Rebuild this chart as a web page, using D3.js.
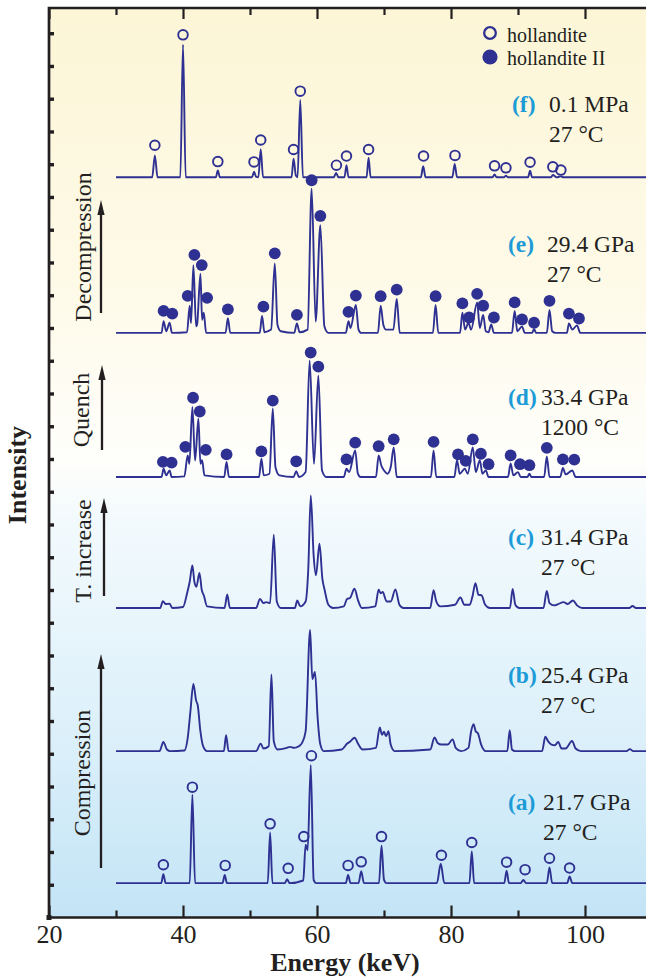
<!DOCTYPE html>
<html>
<head>
<meta charset="utf-8">
<script src="https://cdn.jsdelivr.net/npm/d3@7"></script>
<style>
  body { margin: 0; background: #fff; }
  text { font-family: "Liberation Serif", "Times New Roman", serif; fill: #231f20; }
</style>
</head>
<body>
<div id="chart"></div>
<script>
// Axis values
const energyDomain = [20, 110];
const xMajorTicks = [20, 40, 60, 80, 100];
const xMinorTicks = [30, 50, 70, 90, 110];
const intensityTicks = d3.range(1, 28);

// Panels, bottom (a) to top (f)
const panels = ["a", "b", "c", "d", "e", "f"];
const pressures = ["21.7 GPa", "25.4 GPa", "31.4 GPa", "33.4 GPa", "29.4 GPa", "0.1 MPa"];
const temperatures = ["27 °C", "27 °C", "27 °C", "1200 °C", "27 °C", "27 °C"];
const offsets = [1.05, 5.08, 9.45, 13.45, 17.85, 22.6];

// Spectra as [energy keV, intensity above baseline]
const spectrumA = [[30,0],[36.75,0],[37.07,0.27],[37.4,0],[41.0,0],[41.4,2.7],[41.8,0],[45.9,0],[46.23,0.25],[46.55,0],
  [52.65,0],[53.0,1.55],[53.35,0],[55.2,0],[55.54,0.12],[55.9,0],[57.95,0.08],[58.3,1.17],[58.6,1.0],[59.07,3.61],[59.5,0.1],[59.9,0],
  [64.3,0],[64.64,0.25],[65.0,0],[66.2,0],[66.6,0.36],[67.0,0],[69.25,0],[69.63,1.14],[70.0,0.1],[70.4,0],[77.9,0],[78.47,0.59],[79.0,0],
  [82.75,0],[83.1,0.97],[83.45,0],[87.95,0],[88.3,0.38],[88.65,0],[90.4,0],[90.8,0.1],[91.2,0],[94.3,0],[94.7,0.48],[95.1,0],
  [97.35,0],[97.7,0.2],[98.1,0],[110,0]];

const spectrumB = [[30,0],[36.5,0],[37.07,0.28],[37.6,0.05],[38.1,0],[40.2,0.02],[40.7,0.4],[41.1,1.2],[41.55,2.05],[41.95,1.55],
  [42.2,1.4],[42.6,0.6],[43.0,0.15],[43.6,0],[46.1,0],[46.43,0.49],[46.8,0],[50.9,0],[51.6,0.23],[52.0,0.08],[52.8,0.15],[53.2,2.34],
  [53.55,0.3],[54.1,0.05],[55.5,0.1],[55.96,0.13],[56.6,0.1],[57.3,0.15],[57.77,0.25],[58.3,0.6],[58.97,3.7],[59.3,2.2],[59.7,2.42],
  [60.1,1.0],[60.5,0.2],[61.0,0],[63.7,0.05],[64.5,0.23],[65.0,0.3],[65.6,0.41],[66.2,0.2],[66.8,0.05],[68.8,0.1],[69.37,0.72],
  [69.7,0.5],[70.0,0.59],[70.3,0.45],[70.67,0.61],[71.0,0.2],[71.6,0],[76.9,0.05],[77.54,0.42],[78.0,0.25],[78.6,0.2],[79.5,0.2],
  [80.24,0.36],[80.7,0.1],[81.5,0],[82.6,0.1],[83.0,0.6],[83.36,0.82],[83.7,0.6],[84.03,0.54],[84.5,0.2],[85.2,0],[88.4,0],
  [88.77,0.64],[89.1,0.05],[89.6,0],[93.6,0],[94.07,0.44],[94.5,0.3],[95.0,0.2],[95.5,0.18],[96.0,0.28],[96.5,0.08],[97.1,0.08],
  [98.07,0.31],[98.6,0.08],[99.4,0],[106.2,0],[106.7,0.06],[107.2,0],[110,0]];

const spectrumC = [[30,0],[36.6,0],[37.0,0.21],[37.4,0.12],[38.0,0.13],[38.4,0],[40.0,0.03],[40.6,0.44],[41.0,0.8],[41.4,1.3],
  [41.7,0.8],[42.0,0.65],[42.45,1.07],[42.8,0.55],[43.1,0.39],[43.6,0.05],[46.2,0],[46.6,0.41],[47.0,0],[50.9,0],[51.5,0.28],
  [52.0,0.15],[52.4,0.18],[53.0,0.15],[53.55,2.24],[54.0,0.2],[54.6,0],[56.7,0],[57.05,0.23],[57.5,0.05],[58.3,0.2],[58.7,1.2],
  [59.07,3.44],[59.5,1.6],[59.85,1.0],[60.37,1.96],[60.8,0.9],[61.15,0.54],[61.7,0.1],[62.4,0],[64.0,0.05],[64.5,0.28],[64.9,0.3],
  [65.6,0.59],[66.1,0.25],[66.7,0],[68.7,0.05],[69.2,0.56],[69.5,0.45],[69.8,0.49],[70.4,0.2],[71.0,0.2],[71.7,0.57],[72.3,0.1],
  [72.9,0],[76.9,0],[77.4,0.54],[77.8,0.2],[78.4,0.05],[80.6,0.1],[81.4,0.32],[82.0,0.1],[82.8,0.1],[83.2,0.35],[83.65,0.76],
  [84.1,0.4],[84.55,0.39],[85.1,0.1],[85.8,0],[88.8,0],[89.2,0.58],[89.6,0.1],[90.2,0],[93.8,0],[94.3,0.52],[94.7,0.15],[95.4,0.08],
  [96.0,0.12],[96.8,0.18],[97.4,0.12],[98.2,0.23],[98.8,0.08],[99.6,0],[106.6,0],[107.1,0.06],[107.6,0],[110,0]];

const spectrumD = [[30,0],[36.8,0],[37.1,0.25],[37.5,0.05],[38.0,0.2],[38.3,0],[40.2,0.02],[40.7,0.66],[40.95,0.4],[41.4,2.14],
  [41.8,0.5],[42.3,1.78],[42.6,0.4],[42.85,0.51],[43.2,0.05],[46.15,0],[46.5,0.46],[46.85,0],[51.35,0],[51.7,0.56],[52.05,0.05],
  [52.9,0.1],[53.4,2.09],[53.8,0.3],[54.4,0.05],[56.5,0],[56.9,0.18],[57.3,0],[58.3,0.15],[58.9,3.56],[59.55,0.4],[60.2,3.1],
  [60.75,0.2],[61.4,0],[64.0,0],[64.4,0.25],[64.8,0.15],[65.7,0.81],[66.1,0.1],[66.5,0],[68.8,0],[69.2,0.66],[69.6,0.35],[70.0,0.2],
  [70.5,0.1],[71.0,0.3],[71.45,0.9],[71.9,0],[77.0,0],[77.4,0.81],[77.8,0],[80.5,0],[80.9,0.51],[81.3,0.1],[82.06,0.25],[82.5,0.1],
  [83.25,0.9],[83.7,0.15],[84.3,0.51],[84.7,0.1],[85.2,0.2],[85.6,0],[88.5,0],[88.9,0.41],[89.3,0.05],[90.0,0.15],[90.4,0],
  [91.4,0],[91.7,0.1],[92.0,0],[93.9,0],[94.3,0.63],[94.7,0],[96.3,0],[96.7,0.28],[97.1,0.08],[98.1,0.2],[98.6,0],[110,0]];

const spectrumE = [[30,0],[36.8,0],[37.1,0.36],[37.5,0.05],[38.0,0.31],[38.35,0],[40.6,0.02],[41.0,0.83],[41.2,0.3],[41.55,2.07],
  [41.95,0.2],[42.1,0.25],[42.6,1.81],[42.85,0.4],[43.1,0.62],[43.45,0],[46.35,0],[46.7,0.45],[47.05,0],[51.45,0],[51.8,0.52],
  [52.15,0.02],[53.15,0.1],[53.7,2.12],[54.1,0.25],[54.6,0.05],[56.6,0],[57.0,0.29],[57.4,0.02],[58.6,0.1],[59.2,4.4],[59.8,0.35],
  [60.5,3.29],[61.1,0.2],[61.7,0],[64.3,0],[64.7,0.36],[65.0,0.15],[65.8,0.85],[66.2,0.1],[66.6,0],[69.1,0],[69.5,0.83],[69.9,0.25],
  [70.3,0.1],[71.4,0.1],[71.9,1.04],[72.35,0],[77.3,0],[77.7,0.85],[78.1,0],[81.35,0],[81.7,0.62],[82.1,0.1],[82.6,0.31],[83.0,0.1],
  [83.9,0.93],[84.3,0.15],[84.8,0.55],[85.2,0.05],[85.6,0.02],[86.0,0.26],[86.4,0],[89.1,0],[89.5,0.67],[89.9,0.05],[90.6,0.2],
  [91.0,0],[92.1,0],[92.4,0.12],[92.7,0],[94.3,0],[94.7,0.7],[95.1,0.05],[95.6,0],[97.3,0],[97.6,0.29],[98.1,0.1],[98.8,0.23],
  [99.3,0],[110,0]];

const spectrumF = [[30,0],[35.4,0],[35.8,0.67],[36.2,0],[39.6,0],[40.0,4.05],[40.4,0],[44.9,0],[45.2,0.21],[45.5,0],[50.3,0],
  [50.6,0.17],[50.9,0.02],[51.25,0],[51.6,0.86],[51.95,0],[56.2,0],[56.5,0.57],[56.85,0.05],[57.1,0],[57.5,2.36],[57.9,0],[62.5,0],
  [62.85,0.13],[63.2,0],[64.1,0],[64.4,0.37],[64.7,0],[67.4,0],[67.7,0.6],[68.0,0],[75.5,0],[75.85,0.34],[76.2,0],[80.2,0],
  [80.55,0.41],[80.9,0],[86.2,0],[86.5,0.09],[86.8,0],[87.9,0],[88.2,0.05],[88.5,0],[91.5,0],[91.8,0.2],[92.1,0],[94.9,0],
  [95.2,0.07],[95.8,0],[96.4,0.03],[96.8,0],[110,0]];

// Peak markers [energy, height above baseline]
const markersA = [[37.07,0.56],[41.4,2.93],[46.3,0.54],[53.0,1.81],[55.7,0.45],[58.03,1.42],[59.17,3.89],[64.64,0.54],[66.6,0.65],
  [69.63,1.42],[78.57,0.85],[83.1,1.24],[88.3,0.64],[91.06,0.41],[94.7,0.76],[97.7,0.46]];
const markersD = [[37.0,0.46],[38.3,0.44],[40.35,0.92],[41.5,2.42],[42.5,2.0],[43.4,0.83],[46.5,0.69],[51.7,0.78],[53.4,2.33],
  [56.9,0.48],[59.06,3.8],[60.2,3.37],[64.4,0.54],[65.7,1.05],[69.2,0.94],[71.45,1.15],[77.4,1.07],[81.05,0.69],[82.2,0.49],
  [83.25,1.15],[84.46,0.71],[85.6,0.39],[88.9,0.66],[90.3,0.39],[91.7,0.36],[94.3,0.89],[96.7,0.54],[98.4,0.53]];
const markersE = [[37.1,0.67],[38.4,0.59],[40.7,1.13],[41.7,2.38],[42.8,2.07],[43.6,1.07],[46.7,0.72],[52.0,0.8],[53.7,2.43],
  [57.0,0.55],[59.2,4.66],[60.5,3.57],[64.7,0.64],[65.8,1.14],[69.5,1.12],[71.9,1.32],[77.7,1.12],[81.7,0.9],[82.7,0.47],
  [83.9,1.19],[84.8,0.83],[86.4,0.47],[89.5,0.93],[90.6,0.41],[92.4,0.31],[94.7,0.98],[97.6,0.59],[99.1,0.44]];
const markersF = [[35.8,0.98],[40.0,4.35],[45.2,0.48],[50.6,0.47],[51.6,1.14],[56.5,0.85],[57.5,2.63],[62.9,0.37],[64.4,0.65],
  [67.7,0.85],[75.9,0.65],[80.6,0.67],[86.5,0.35],[88.2,0.29],[91.8,0.46],[95.2,0.32],[96.4,0.22]];

const spectra = [spectrumA, spectrumB, spectrumC, spectrumD, spectrumE, spectrumF];
const markerSets = [
  { panel: 0, phase: "hollandite", points: markersA },
  { panel: 3, phase: "hollandite II", points: markersD },
  { panel: 4, phase: "hollandite II", points: markersE },
  { panel: 5, phase: "hollandite", points: markersF }
];
const legendItems = ["hollandite", "hollandite II"];
const processes = ["Compression", "T. increase", "Quench", "Decompression"];

// Layout (pixels)
const width = 646, height = 979;
const plotLeft = 49, plotRight = 652, plotTop = 8, plotBottom = 917.5;
const blue = "#2e3192", cyan = "#1d9bd7";
const labelLetterX = [508, 508, 508, 508, 508, 512];
const labelValueX = [543, 541, 541, 541, 547, 549];
const labelY = [810, 683, 545, 405, 252, 112];
const processLayout = [
  { x: 101, y1: 868, y2: 654, tx: 90, ty: 773 },
  { x: 104, y1: 596, y2: 498, tx: 91, ty: 551 },
  { x: 102, y1: 450, y2: 365, tx: 89, ty: 410 },
  { x: 101, y1: 313, y2: 200, tx: 91, ty: 247 }
];

const svg = d3.select("#chart").append("svg")
    .attr("width", width)
    .attr("height", height);

const x = d3.scaleLinear().domain(energyDomain).range([plotLeft, plotRight]);
const y = d3.scaleLinear().domain([0, 27.77]).range([plotBottom, plotTop]);

// background gradient
const grad = svg.append("defs").append("linearGradient")
    .attr("id", "bg").attr("x1", 0).attr("y1", 0).attr("x2", 0).attr("y2", 1);
[[0, "#fcf5d6"], [0.3, "#fefae8"], [0.5, "#fefefb"], [0.56, "#f3fafd"], [0.8, "#dcf0fa"], [1, "#c3e4f6"]]
  .forEach(s => grad.append("stop").attr("offset", s[0]).attr("stop-color", s[1]));

svg.append("rect")
    .attr("x", plotLeft).attr("y", plotTop)
    .attr("width", plotRight - plotLeft).attr("height", plotBottom - plotTop)
    .attr("fill", "url(#bg)");

// spectra
const line = d3.line().curve(d3.curveMonotoneX);
svg.append("g").selectAll("path")
    .data(spectra)
    .join("path")
    .attr("d", (d, i) => line.x(p => x(p[0])).y(p => y(p[1] + offsets[i]))(d))
    .attr("fill", "none")
    .attr("stroke", blue)
    .attr("stroke-width", 1.9)
    .attr("stroke-linejoin", "round");

// peak markers
markerSets.forEach(set => {
  const open = set.phase === "hollandite";
  svg.append("g").selectAll("circle")
      .data(set.points)
      .join("circle")
      .attr("cx", d => x(d[0]))
      .attr("cy", d => y(d[1] + offsets[set.panel]))
      .attr("r", open ? 4.8 : 5.9)
      .attr("fill", open ? "none" : blue)
      .attr("stroke", open ? blue : "none")
      .attr("stroke-width", 1.9);
});

// axes
function styleAxis(g, w) {
  g.select(".domain").remove();
  g.selectAll(".tick line").attr("stroke", "#231f20").attr("stroke-width", w);
}
svg.append("g").attr("transform", `translate(0,${plotBottom})`)
    .call(d3.axisBottom(x).tickValues(xMajorTicks).tickSizeInner(-12).tickSizeOuter(0).tickPadding(7))
    .call(g => styleAxis(g, 2.2))
    .call(g => g.selectAll("text")
        .attr("font-family", "Liberation Serif, serif")
        .attr("font-size", 26)
        .attr("fill", "#231f20"));
svg.append("g").attr("transform", `translate(0,${plotBottom})`)
    .call(d3.axisBottom(x).tickValues(xMinorTicks).tickSizeInner(-7).tickSizeOuter(0).tickFormat(""))
    .call(g => styleAxis(g, 2.2));
svg.append("g").attr("transform", `translate(0,${plotTop})`)
    .call(d3.axisTop(x).tickValues(xMajorTicks).tickSizeInner(-11).tickSizeOuter(0).tickFormat(""))
    .call(g => styleAxis(g, 2.2));
svg.append("g").attr("transform", `translate(0,${plotTop})`)
    .call(d3.axisTop(x).tickValues(xMinorTicks).tickSizeInner(-7).tickSizeOuter(0).tickFormat(""))
    .call(g => styleAxis(g, 2.2));
svg.append("g").attr("transform", `translate(${plotLeft},0)`)
    .call(d3.axisLeft(y).tickValues(intensityTicks).tickSizeInner(-5).tickSizeOuter(0).tickFormat(""))
    .call(g => styleAxis(g, 3.4));

// frame
svg.append("path")
    .attr("d", `M${plotRight},${plotTop}H${plotLeft}V${plotBottom}H${plotRight}`)
    .attr("fill", "none")
    .attr("stroke", "#231f20")
    .attr("stroke-width", 2.7)
    .attr("stroke-linejoin", "miter");
svg.append("rect")
    .attr("x", plotLeft - 2.5).attr("y", plotBottom - 2.5)
    .attr("width", 5).attr("height", 5)
    .attr("fill", "#231f20");

// axis titles
svg.append("text")
    .attr("x", 345).attr("y", 971)
    .attr("text-anchor", "middle")
    .attr("font-size", 26)
    .attr("font-weight", "bold")
    .text("Energy (keV)");
svg.append("text")
    .attr("transform", "translate(26,475) rotate(-90)")
    .attr("text-anchor", "middle")
    .attr("font-size", 26)
    .attr("font-weight", "bold")
    .text("Intensity");

// legend
const legend = svg.append("g");
legendItems.forEach((name, i) => {
  const open = i === 0;
  legend.append("circle")
      .attr("cx", 490).attr("cy", 33 + i * 24)
      .attr("r", open ? 5.8 : 7.6)
      .attr("fill", open ? "none" : blue)
      .attr("stroke", open ? blue : "none")
      .attr("stroke-width", 2.3);
  legend.append("text")
      .attr("x", 507).attr("y", 41.5 + i * 23)
      .attr("font-size", 20)
      .text(name);
});

// panel labels
panels.forEach((p, i) => {
  const t = svg.append("text").attr("y", labelY[i]).attr("font-size", 23.5);
  t.append("tspan")
      .attr("x", labelLetterX[i])
      .attr("font-weight", "bold")
      .style("fill", cyan)
      .text(`(${p})`);
  t.append("tspan")
      .attr("x", labelValueX[i])
      .text(pressures[i]);
  svg.append("text")
      .attr("x", labelValueX[i]).attr("y", labelY[i] + 30)
      .attr("font-size", 23.5)
      .text(temperatures[i]);
});

// process arrows
processes.forEach((name, i) => {
  const a = processLayout[i];
  svg.append("line")
      .attr("x1", a.x).attr("x2", a.x)
      .attr("y1", a.y1).attr("y2", a.y2 + 10)
      .attr("stroke", "#231f20")
      .attr("stroke-width", 2.3);
  svg.append("path")
      .attr("d", `M${a.x - 3.6},${a.y2 + 15}L${a.x},${a.y2}L${a.x + 3.6},${a.y2 + 15}Z`)
      .attr("fill", "#231f20");
  svg.append("text")
      .attr("transform", `translate(${a.tx},${a.ty}) rotate(-90)`)
      .attr("text-anchor", "middle")
      .attr("font-size", 24)
      .text(name);
});
</script>
</body>
</html>
